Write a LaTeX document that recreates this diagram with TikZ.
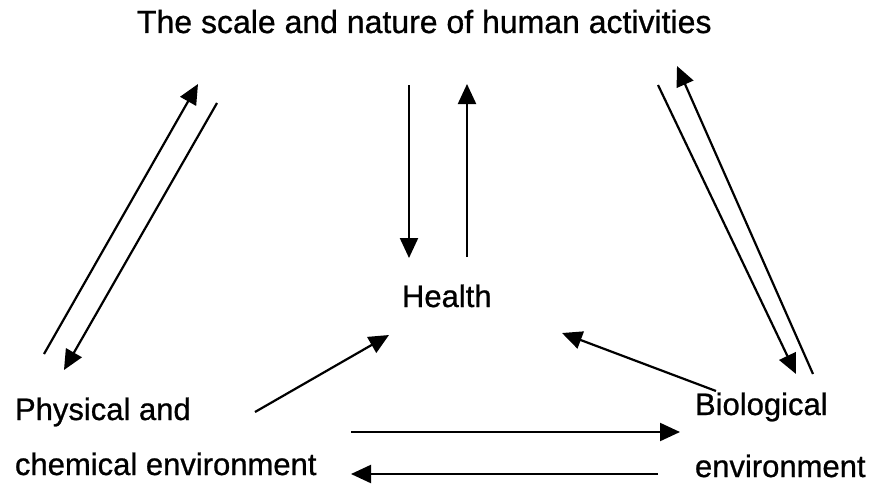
\documentclass[tikz,border=0pt]{standalone}
\usepackage{fontspec}
\setmainfont{Liberation Sans}[BoldFont=Liberation Sans, BoldFeatures={FakeBold=0.8}]
\usetikzlibrary{arrows.meta}
\tikzset{
  lbl/.style={inner sep=0pt, outer sep=0pt, anchor=base west, font=\fontsize{31}{36}\selectfont\bfseries},
  conn/.style={line width=2.2pt, -{Triangle[length=20pt,width=18pt]}},
}
\begin{document}
\begin{tikzpicture}[x=1pt,y=-1pt]
\useasboundingbox (0,0) rectangle (877,487);
\node[lbl, font=\fontsize{32}{36}\selectfont\bfseries] (title) at (137,33) {The scale and nature of human activities};
\node[lbl] (health) at (402,307) {Health};
\node[lbl] (phys1) at (15,420) {Physical and};
\node[lbl] (phys2) at (15,475) {chemical environment};
\node[lbl] (bio1) at (695,415) {Biological};
\node[lbl] (bio2) at (695,477) {environment};
% endpoints
\coordinate (l1s) at (44,354); \coordinate (l1e) at (198,84);
\coordinate (l2s) at (217,103); \coordinate (l2e) at (64,370);
\coordinate (c1s) at (409,85); \coordinate (c1e) at (409,258);
\coordinate (c2s) at (467,257); \coordinate (c2e) at (467,84);
\coordinate (r1s) at (658,85); \coordinate (r1e) at (796,374);
\coordinate (r2s) at (813,374); \coordinate (r2e) at (677,66);
\coordinate (h1s) at (255,412); \coordinate (h1e) at (389,335);
\coordinate (h2s) at (716,391); \coordinate (h2e) at (562,333);
\coordinate (b1s) at (351,432); \coordinate (b1e) at (680,432);
\coordinate (b2s) at (658,474); \coordinate (b2e) at (351,474);
\draw[conn] (l1s) -- (l1e);
\draw[conn] (l2s) -- (l2e);
\draw[conn] (c1s) -- (c1e);
\draw[conn] (c2s) -- (c2e);
\draw[conn] (r1s) -- (r1e);
\draw[conn] (r2s) -- (r2e);
\draw[conn] (h1s) -- (h1e);
\draw[conn] (h2s) -- (h2e);
\draw[conn] (b1s) -- (b1e);
\draw[conn] (b2s) -- (b2e);
\end{tikzpicture}
\end{document}
